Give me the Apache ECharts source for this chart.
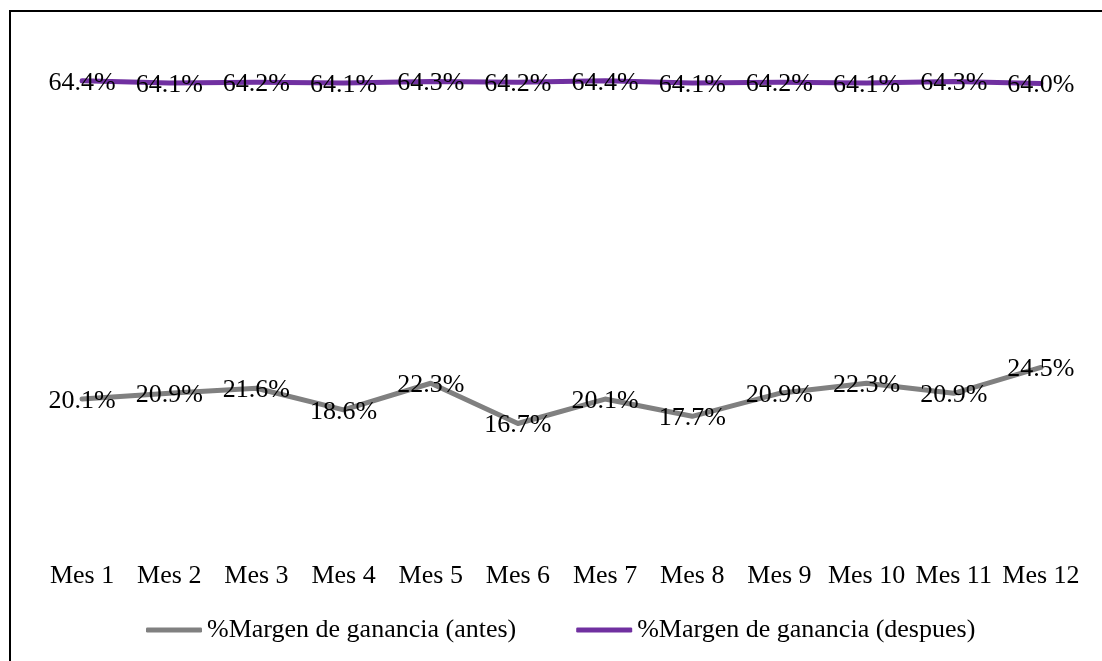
<!DOCTYPE html>
<html>
<head>
<meta charset="utf-8">
<style>html,body{margin:0;padding:0;background:#fff}#c{width:1102px;height:661px}</style>
<script src="https://cdn.jsdelivr.net/npm/echarts@6/dist/echarts.min.js"></script>
</head>
<body>
<div id="c"></div>
<script>
const categories = ['Mes 1','Mes 2','Mes 3','Mes 4','Mes 5','Mes 6','Mes 7','Mes 8','Mes 9','Mes 10','Mes 11','Mes 12'];
const antes = [20.1,20.9,21.6,18.6,22.3,16.7,20.1,17.7,20.9,22.3,20.9,24.5];
const despues = [64.4,64.1,64.2,64.1,64.3,64.2,64.4,64.1,64.2,64.1,64.3,64.0];
const seriesNames = ['%Margen de ganancia (antes)','%Margen de ganancia (despues)'];

const FONT = '"Liberation Serif", "Times New Roman", serif';
const chart = echarts.init(document.getElementById('c'));
const lbl = {
  show: true, position: 'inside', offset: [0, 2], color: '#000', fontFamily: FONT, fontSize: 26,
  formatter: p => p.value.toFixed(1) + '%'
};
chart.setOption({
  animation: false,
  graphic: [{
    type: 'rect', shape: {x: 10, y: 11, width: 1200, height: 1000},
    style: {fill: 'none', stroke: '#000', lineWidth: 2}, silent: true, z: 100
  }],
  grid: {left: 38.5, right: 17.5, top: 40.5, bottom: 117.5},
  legend: {
    left: 141, top: 612, itemWidth: 56, itemHeight: 5, itemGap: 60,
    icon: 'roundRect',
    textStyle: {color: '#000', fontFamily: FONT, fontSize: 26},
    data: seriesNames
  },
  xAxis: {
    type: 'category', data: categories, boundaryGap: true,
    axisLine: {show: false}, axisTick: {show: false},
    axisLabel: {interval: 0, color: '#000', fontFamily: FONT, fontSize: 26, margin: 19.5}
  },
  yAxis: {type: 'value', min: 0, max: 70, show: false, splitLine: {show: false}},
  series: [
    {name: seriesNames[0], type: 'line', data: antes, symbol: 'circle', symbolSize: 0,
     lineStyle: {color: '#808080', width: 5, cap: 'round', join: 'round'},
     itemStyle: {color: '#808080'}, label: lbl},
    {name: seriesNames[1], type: 'line', data: despues, symbol: 'circle', symbolSize: 0,
     lineStyle: {color: '#7030A0', width: 5, cap: 'round', join: 'round'},
     itemStyle: {color: '#7030A0'}, label: lbl}
  ]
});
</script>
</body>
</html>
